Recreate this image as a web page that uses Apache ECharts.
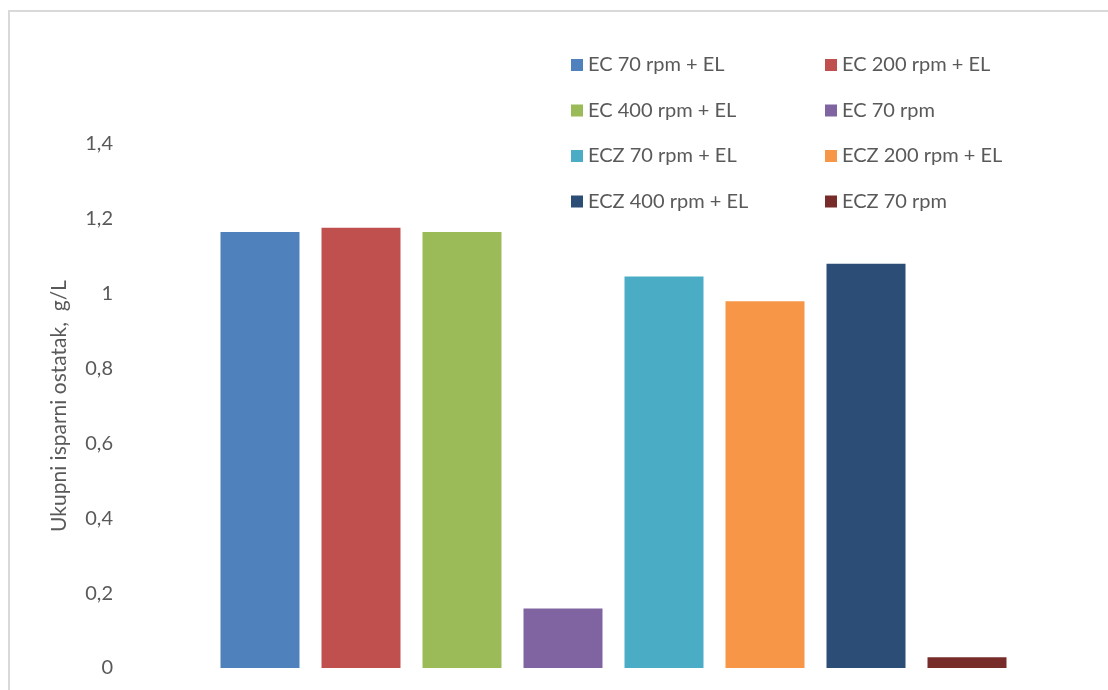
<!DOCTYPE html>
<html>
<head>
<meta charset="utf-8">
<script src="https://cdn.jsdelivr.net/npm/echarts@6/dist/echarts.min.js"></script>
<style>
html,body{margin:0;padding:0;background:#fff;}
#c{width:1108px;height:690px;}
</style>
</head>
<body>
<div id="c"></div>
<script>
const seriesNames = ['EC 70 rpm + EL','EC 200 rpm + EL','EC 400 rpm + EL','EC 70 rpm','ECZ 70 rpm + EL','ECZ 200 rpm + EL','ECZ 400 rpm + EL','ECZ 70 rpm'];
const seriesValues = [1.165, 1.176, 1.165, 0.159, 1.046, 0.980, 1.080, 0.029];
const seriesColors = ['#4F81BD','#C0504D','#9BBB59','#8064A2','#4BACC6','#F79646','#2C4D75','#772C2A'];
const categories = [''];
const yAxisTitle = 'Ukupni isparni ostatak,  g/L';
const yMin = 0, yMax = 1.4, yStep = 0.2;

const font = 'Lato, "Open Sans", sans-serif';
const chart = echarts.init(document.getElementById('c'));
const series = seriesNames.map((n, i) => ({
  name: n,
  type: 'bar',
  data: [seriesValues[i]],
  barWidth: 79,
  barGap: '27.85%',
  itemStyle: { color: seriesColors[i] }
}));
const legendBase = {
  orient: 'vertical',
  padding: 0,
  itemWidth: 12,
  itemHeight: 12,
  itemGap: 25.5,
  icon: 'rect',
  textStyle: { fontFamily: font, fontSize: 20, color: '#595959', lineHeight: 20 }
};
chart.setOption({
  animation: false,
  textStyle: { fontFamily: font },
  graphic: [{
    type: 'rect', shape: { x: 9, y: 11, width: 1300, height: 900 },
    style: { fill: 'none', stroke: '#d9d9d9', lineWidth: 2 }, silent: true
  }],
  legend: [
    Object.assign({}, legendBase, { left: 571, top: 55, data: [seriesNames[0], seriesNames[2], seriesNames[4], seriesNames[6]] }),
    Object.assign({}, legendBase, { left: 825, top: 55, data: [seriesNames[1], seriesNames[3], seriesNames[5], seriesNames[7]] })
  ],
  grid: { left: 125, right: 6, top: 144, bottom: 22, containLabel: false },
  xAxis: {
    type: 'category', data: categories,
    axisLine: { show: false }, axisTick: { show: false }, axisLabel: { show: false }
  },
  yAxis: {
    type: 'value', min: yMin, max: yMax, interval: yStep,
    name: yAxisTitle, nameLocation: 'middle', nameGap: 55,
    nameTextStyle: { fontFamily: font, fontSize: 21, color: '#595959' },
    axisLine: { show: false }, axisTick: { show: false }, splitLine: { show: false },
    axisLabel: {
      margin: 12, fontFamily: font, fontSize: 20, color: '#595959',
      formatter: v => String(Math.round(v * 10) / 10).replace('.', ',')
    }
  },
  series: series
});
</script>
</body>
</html>
